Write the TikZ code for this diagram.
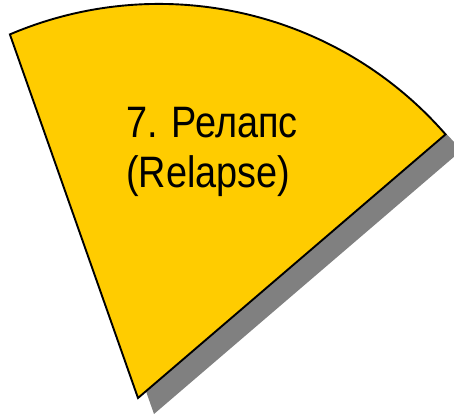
\documentclass[tikz,border=0pt]{standalone}
\usepackage{fontspec}
\setmainfont{Liberation Sans}
\definecolor{wedgefill}{HTML}{FFCC00}
\definecolor{wedgeshadow}{HTML}{808080}
\newcommand{\narrowtext}[1]{\scalebox{0.86}[1]{#1}}
\tikzset{
  wedge/.style={fill=wedgefill, draw=black, line width=1.9pt, line join=miter},
  wedgeback/.style={fill=wedgeshadow},
  label/.style={anchor=base west, inner sep=0pt, font=\fontsize{44}{52}\selectfont}
}
\begin{document}
\begin{tikzpicture}[x=1pt,y=1pt]
  \useasboundingbox (0,0) rectangle (454,416);
  % apex and outer corners of the sector
  \coordinate (apex) at (138,18);
  \coordinate (lc) at (9.9,381.6);
  \coordinate (sapex) at (154,2);
  \coordinate (slc) at (25.9,365.6);
  % drop shadow
  \fill[wedgeback] (sapex) -- (slc) arc[start angle=113.1, end angle=41.05, radius=380] -- cycle;
  % the sector itself
  \draw[wedge] (apex) -- (lc) arc[start angle=113.1, end angle=41.05, radius=380] -- cycle;
  \node[label] (t1) at (126,279) {\narrowtext{7. Релапс}};
  \node[label] (t2) at (126,229) {\narrowtext{(Relapse)}};
\end{tikzpicture}
\end{document}
